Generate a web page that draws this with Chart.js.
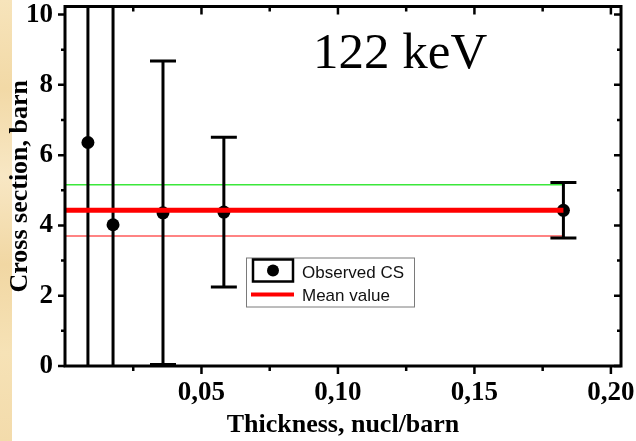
<!DOCTYPE html>
<html>
<head>
<meta charset="utf-8">
<script src="https://cdn.jsdelivr.net/npm/chart.js@4.4.1/dist/chart.umd.min.js"></script>
<style>
  html, body { margin: 0; padding: 0; background: #fff; }
  canvas { display: block; }
</style>
</head>
<body>
<canvas id="csChart" width="636" height="441"></canvas>
<script>
// target thickness (nucl/barn) vs observed cross section (barn), 1-sigma errors
const thickness    = [0.0084, 0.0176, 0.0359, 0.0582, 0.1826];
const crossSection = [6.36, 4.02, 4.36, 4.38, 4.43];
const csError      = [7.5, 7.0, 4.32, 2.13, 0.79];

// weighted mean and its band
const meanValue = 4.43;
const meanUpper = 5.16;
const meanLower = 3.70;

const xMajorTicks = [0.05, 0.10, 0.15, 0.20];
const xTickLabels = ['0,05', '0,10', '0,15', '0,20'];
const xMinorTicks = [0.025, 0.075, 0.125, 0.175];
const yMajorTicks = [0, 2, 4, 6, 8, 10];
const yTickLabels = ['0', '2', '4', '6', '8', '10'];
const yMinorTicks = [1, 3, 5, 7, 9];

const energyLabel = '122 keV';

const serif = '"Liberation Serif", "Times New Roman", serif';
const sans = '"Liberation Sans", Arial, sans-serif';

const lastX = thickness[thickness.length - 1];
const hline = (y) => [{x: 0, y: y}, {x: lastX, y: y}];

const backdrop = {
    id: 'backdrop',
    beforeDraw(chart){
        const ctx = chart.ctx;
        ctx.save();
        ctx.fillStyle = '#ffffff';
        ctx.fillRect(0, 0, chart.width, chart.height);
        const g = ctx.createLinearGradient(0, 0, 0, chart.height);
        g.addColorStop(0.00, '#f7e4bb');
        g.addColorStop(0.20, '#f2d9a6');
        g.addColorStop(0.40, '#f8e7c4');
        g.addColorStop(0.60, '#f1d7a3');
        g.addColorStop(0.80, '#f6e2b6');
        g.addColorStop(1.00, '#f3dbab');
        ctx.fillStyle = g;
        ctx.fillRect(0, 0, 12, chart.height);
        ctx.restore();
    }
};

// vertical error bars with caps, drawn just before the scatter points
const errorBars = {
    id: 'errorBars',
    beforeDatasetDraw(chart, args){
        if(args.index !== 0) return;
        const ctx = chart.ctx;
        const xs = chart.scales.x, ys = chart.scales.y;
        const area = chart.chartArea;
        ctx.save();
        ctx.beginPath();
        ctx.rect(area.left, area.top, area.right - area.left, area.bottom - area.top);
        ctx.clip();
        ctx.strokeStyle = '#000';
        ctx.lineWidth = 3;
        for(let i = 0; i < thickness.length; i++){
            const px = xs.getPixelForValue(thickness[i]);
            const hi = ys.getPixelForValue(crossSection[i] + csError[i]);
            const lo = ys.getPixelForValue(crossSection[i] - csError[i]);
            ctx.beginPath();
            ctx.moveTo(px, hi);
            ctx.lineTo(px, lo);
            ctx.moveTo(px - 13, hi);
            ctx.lineTo(px + 13, hi);
            ctx.moveTo(px - 13, lo);
            ctx.lineTo(px + 13, lo);
            ctx.stroke();
        }
        ctx.restore();
    }
};

// box frame, outward ticks on bottom/left, inward on top/right
const frame = {
    id: 'frame',
    afterDatasetsDraw(chart){
        const ctx = chart.ctx;
        const {left, right, top, bottom} = chart.chartArea;
        const xs = chart.scales.x, ys = chart.scales.y;
        ctx.save();
        ctx.strokeStyle = '#000';
        ctx.lineWidth = 2.5;
        ctx.beginPath();
        const xTick = (v, len) => {
            const p = xs.getPixelForValue(v);
            ctx.moveTo(p, bottom); ctx.lineTo(p, bottom + len);
            ctx.moveTo(p, top); ctx.lineTo(p, top + len);
        };
        const yTick = (v, len) => {
            const p = ys.getPixelForValue(v);
            ctx.moveTo(left - len, p); ctx.lineTo(left, p);
            ctx.moveTo(right - len, p); ctx.lineTo(right, p);
        };
        xMajorTicks.forEach(v => xTick(v, 8));
        xMinorTicks.forEach(v => xTick(v, 5));
        yMajorTicks.forEach(v => yTick(v, 7));
        yMinorTicks.forEach(v => yTick(v, 4));
        ctx.stroke();
        ctx.lineWidth = 3;
        ctx.strokeRect(left, top, right - left, bottom - top);

        ctx.fillStyle = '#000';
        ctx.font = '51px ' + serif;
        ctx.textBaseline = 'alphabetic';
        ctx.fillText(energyLabel, left + 248, top + 61);
        ctx.restore();
    }
};

// Origin style legend: boxed symbol + line sample
const boxLegend = {
    id: 'boxLegend',
    afterDraw(chart){
        const ctx = chart.ctx;
        const area = chart.chartArea;
        const bx = area.left + 181, by = area.top + 251;
        const ds = chart.data.datasets;
        ctx.save();
        ctx.fillStyle = '#fff';
        ctx.fillRect(bx, by, 168, 49);
        ctx.strokeStyle = '#7a7a7a';
        ctx.lineWidth = 1;
        ctx.strokeRect(bx + 0.5, by + 0.5, 168, 49);

        ctx.strokeStyle = '#000';
        ctx.lineWidth = 2.5;
        ctx.strokeRect(bx + 7, by + 2, 40, 22);
        ctx.fillStyle = '#000';
        ctx.beginPath();
        ctx.arc(bx + 27, by + 13, 6, 0, Math.PI * 2);
        ctx.fill();

        ctx.strokeStyle = ds[1].borderColor;
        ctx.lineWidth = 4;
        ctx.beginPath();
        ctx.moveTo(bx + 5, by + 37);
        ctx.lineTo(bx + 48, by + 37);
        ctx.stroke();

        ctx.fillStyle = '#111';
        ctx.font = '17px ' + sans;
        ctx.textBaseline = 'alphabetic';
        ctx.fillText(ds[0].label, bx + 56, by + 20);
        ctx.fillText(ds[1].label, bx + 56, by + 43);
        ctx.restore();
    }
};

new Chart(document.getElementById('csChart'), {
    type: 'scatter',
    data: {
        datasets: [
            {
                label: 'Observed CS',
                data: thickness.map((x, i) => ({x: x, y: crossSection[i]})),
                pointRadius: 6.5,
                pointBackgroundColor: '#000',
                pointBorderColor: '#000',
                pointBorderWidth: 0,
                order: 3
            },
            {
                label: 'Mean value',
                data: hline(meanValue),
                showLine: true,
                borderColor: '#ff0000',
                borderWidth: 5,
                pointRadius: 0,
                order: 1
            },
            {
                label: 'upper',
                data: hline(meanUpper),
                showLine: true,
                borderColor: '#3be83b',
                borderWidth: 1.5,
                pointRadius: 0,
                order: 5
            },
            {
                label: 'lower',
                data: hline(meanLower),
                showLine: true,
                borderColor: '#ff5a5a',
                borderWidth: 1.5,
                pointRadius: 0,
                order: 4
            }
        ]
    },
    options: {
        responsive: false,
        animation: false,
        events: [],
        layout: { padding: { top: 6, right: 15, left: 0, bottom: 0 } },
        plugins: {
            legend: { display: false },
            tooltip: { enabled: false }
        },
        scales: {
            x: {
                type: 'linear',
                min: 0,
                max: 0.2037,
                grid: { display: false, drawTicks: false },
                border: { display: false },
                afterBuildTicks: s => { s.ticks = xMajorTicks.map(v => ({value: v})); },
                afterFit: s => { s.height = 75; s.paddingLeft = 0; s.paddingRight = 0; },
                ticks: {
                    padding: 11,
                    color: '#000',
                    font: { family: serif, size: 27, weight: 'bold' },
                    callback: v => xTickLabels[xMajorTicks.findIndex(t => Math.abs(t - v) < 1e-9)]
                },
                title: {
                    display: true,
                    text: 'Thickness, nucl/barn',
                    color: '#000',
                    font: { family: serif, size: 26, weight: 'bold' },
                    padding: { top: 0, bottom: 0 }
                }
            },
            y: {
                type: 'linear',
                min: 0,
                max: 10.23,
                grid: { display: false, drawTicks: false },
                border: { display: false },
                afterBuildTicks: s => { s.ticks = yMajorTicks.map(v => ({value: v})); },
                afterFit: s => { s.width = 65; s.paddingTop = 0; s.paddingBottom = 0; },
                ticks: {
                    padding: 12,
                    color: '#000',
                    font: { family: serif, size: 27, weight: 'bold' },
                    callback: v => yTickLabels[yMajorTicks.indexOf(v)]
                },
                title: {
                    display: true,
                    text: 'Cross section, barn',
                    color: '#000',
                    font: { family: serif, size: 26, weight: 'bold' },
                    padding: { top: 5, bottom: 0 }
                }
            }
        }
    },
    plugins: [backdrop, errorBars, frame, boxLegend]
});
</script>
</body>
</html>
